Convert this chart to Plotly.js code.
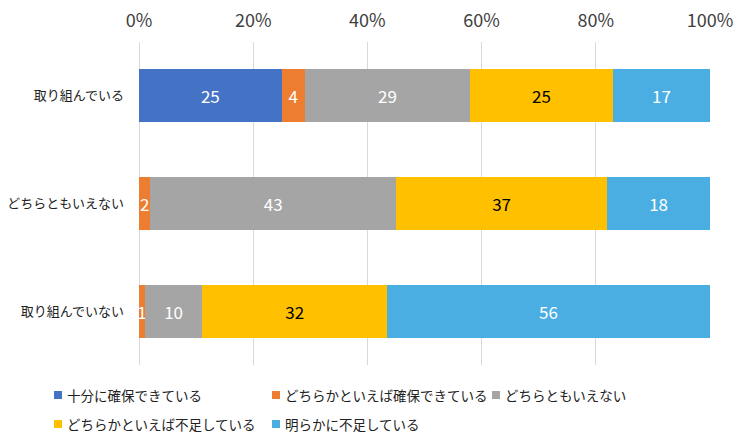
<!DOCTYPE html>
<html>
<head>
<meta charset="utf-8">
<script src="https://cdn.plot.ly/plotly-3.0.1.min.js"></script>
<style>
  html, body { margin: 0; padding: 0; background: #fff; }
  #chart { width: 750px; height: 445px; }
</style>
</head>
<body>
<div id="chart"></div>
<script>
// Survey groups (rows, top to bottom)
const groups = ['取り組んでいる', 'どちらともいえない', '取り組んでいない'];

// Answer categories (stack order, left to right)
const answers = [
  '十分に確保できている',
  'どちらかといえば確保できている',
  'どちらともいえない',
  'どちらかといえば不足している',
  '明らかに不足している'
];

// Share of each answer per group (%), one array per answer
const sufficient       = [25, null, null];
const ratherSufficient = [4, 2, 1];
const neutral          = [29, 43, 10];
const ratherShort      = [25, 37, 32];
const clearlyShort     = [17, 18, 56];

const seriesValues = [sufficient, ratherSufficient, neutral, ratherShort, clearlyShort];
const colors = ['#4472C4', '#ED7D31', '#A5A5A5', '#FFC000', '#4BAEE3'];
const labelColors = ['#ffffff', '#ffffff', '#ffffff', '#000000', '#ffffff'];

const font = '"Noto Sans CJK JP", "Noto Sans", sans-serif';

const W = 750, H = 445;
const M = { l: 139, r: 40, t: 42, b: 80 };
const plotW = W - M.l - M.r, plotH = H - M.t - M.b;
// pixel -> paper coordinates for the hand-placed legend
const px = x => (x - M.l) / plotW;
const py = y => (H - M.b - y) / plotH;

const traces = answers.map((name, i) => ({
  type: 'bar',
  orientation: 'h',
  name: name,
  y: groups,
  x: seriesValues[i],
  text: seriesValues[i].map(v => (v == null ? '' : String(v))),
  textposition: 'inside',
  insidetextanchor: 'middle',
  constraintext: 'none',
  textfont: { family: font, size: 17, color: labelColors[i] },
  marker: { color: colors[i], line: { width: 0 } },
  hoverinfo: 'skip',
  showlegend: false
}));

// Legend laid out in two rows under the plot: [column x, row y] per answer
const legendSlots = [[54, 395], [272, 395], [492, 395], [54, 424], [272, 424]];
const shapes = [];
const annotations = [];
answers.forEach((name, i) => {
  const [lx, ly] = legendSlots[i];
  shapes.push({
    type: 'rect', xref: 'paper', yref: 'paper',
    x0: px(lx), x1: px(lx + 8), y0: py(ly + 4), y1: py(ly - 4),
    fillcolor: colors[i], line: { width: 0 }
  });
  annotations.push({
    xref: 'paper', yref: 'paper',
    x: px(lx + 11), y: py(ly),
    xanchor: 'left', yanchor: 'middle',
    text: name, showarrow: false,
    font: { family: font, size: 13.5, color: '#222222' }
  });
});

const layout = {
  width: W,
  height: H,
  barmode: 'stack',
  barnorm: 'percent',
  bargap: 0.51,
  paper_bgcolor: '#ffffff',
  plot_bgcolor: '#ffffff',
  margin: M,
  font: { family: font, color: '#404040', size: 14 },
  xaxis: {
    side: 'top',
    range: [0, 100],
    dtick: 20,
    ticksuffix: '%',
    showgrid: true,
    gridcolor: '#D9D9D9',
    gridwidth: 1,
    zeroline: true,
    zerolinecolor: '#D9D9D9',
    zerolinewidth: 1,
    showline: false,
    ticks: '',
    ticklabelstandoff: 10,
    tickfont: { family: font, size: 18, color: '#404040' },
    fixedrange: true
  },
  yaxis: {
    type: 'category',
    autorange: 'reversed',
    showgrid: false,
    zeroline: false,
    showline: false,
    ticks: '',
    ticklabelstandoff: 14,
    tickfont: { family: font, size: 13, color: '#222222' },
    fixedrange: true
  },
  shapes: shapes,
  annotations: annotations,
  showlegend: false
};

Plotly.newPlot('chart', traces, layout, { staticPlot: true, displayModeBar: false });
</script>
</body>
</html>
